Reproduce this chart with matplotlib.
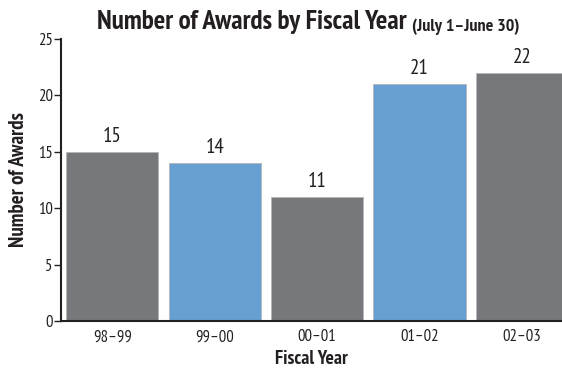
import matplotlib
matplotlib.use("Agg")
import matplotlib.pyplot as plt

plt.rcParams['font.family'] = ['PT Sans Narrow', 'DejaVu Sans']

categories = ["98\u201399", "99\u201300", "00\u201301", "01\u201302", "02\u201303"]
values = [15, 14, 11, 21, 22]
colors = ["#77787b", "#679fd3", "#77787b", "#679fd3", "#77787b"]

fig = plt.figure(figsize=(5.62, 3.69), dpi=100)
ax = fig.add_axes([61/562, 48/369, 1 - 61/562, (321-39)/369])

x = range(len(categories))
ax.bar(x, values, width=0.9, color=colors, edgecolor="#b5b6b8", linewidth=0.6)
for xi, v in zip(x, values):
    ax.text(xi, v + 0.5, str(v), ha="center", va="bottom", fontsize=15, color="#231f20")

ax.set_xlim(-0.5, 4.39)
ax.set_ylim(0, 25)
ax.set_yticks([0, 5, 10, 15, 20, 25])
ax.set_xticks(list(x))
ax.set_xticklabels(categories)
ax.tick_params(axis="x", length=0, labelsize=12, pad=6, colors="#231f20")
ax.tick_params(axis="y", length=5, width=1, labelsize=12, pad=1, colors="#231f20")
for s in ["top", "right"]:
    ax.spines[s].set_visible(False)
for s in ["left", "bottom"]:
    ax.spines[s].set_linewidth(1.5)
    ax.spines[s].set_color("#231f20")

ax.set_xlabel("Fiscal Year", fontsize=14, fontweight="bold", labelpad=3, color="#231f20")
ax.set_ylabel("Number of Awards", fontsize=15, fontweight="bold", labelpad=7, color="#231f20")

t1 = fig.text(97/562, 1 - 22/369, "Number of Awards by Fiscal Year", fontsize=19.5,
              fontweight="bold", ha="left", va="center", color="#231f20")
fig.canvas.draw()
bb = t1.get_window_extent()
fig.text((bb.x1 + 5) / 562, (bb.y0 + 3) / 369, "(July 1\u2013June 30)", fontsize=13,
         fontweight="bold", ha="left", va="baseline", color="#231f20")

fig.savefig("out.png", dpi=100)
